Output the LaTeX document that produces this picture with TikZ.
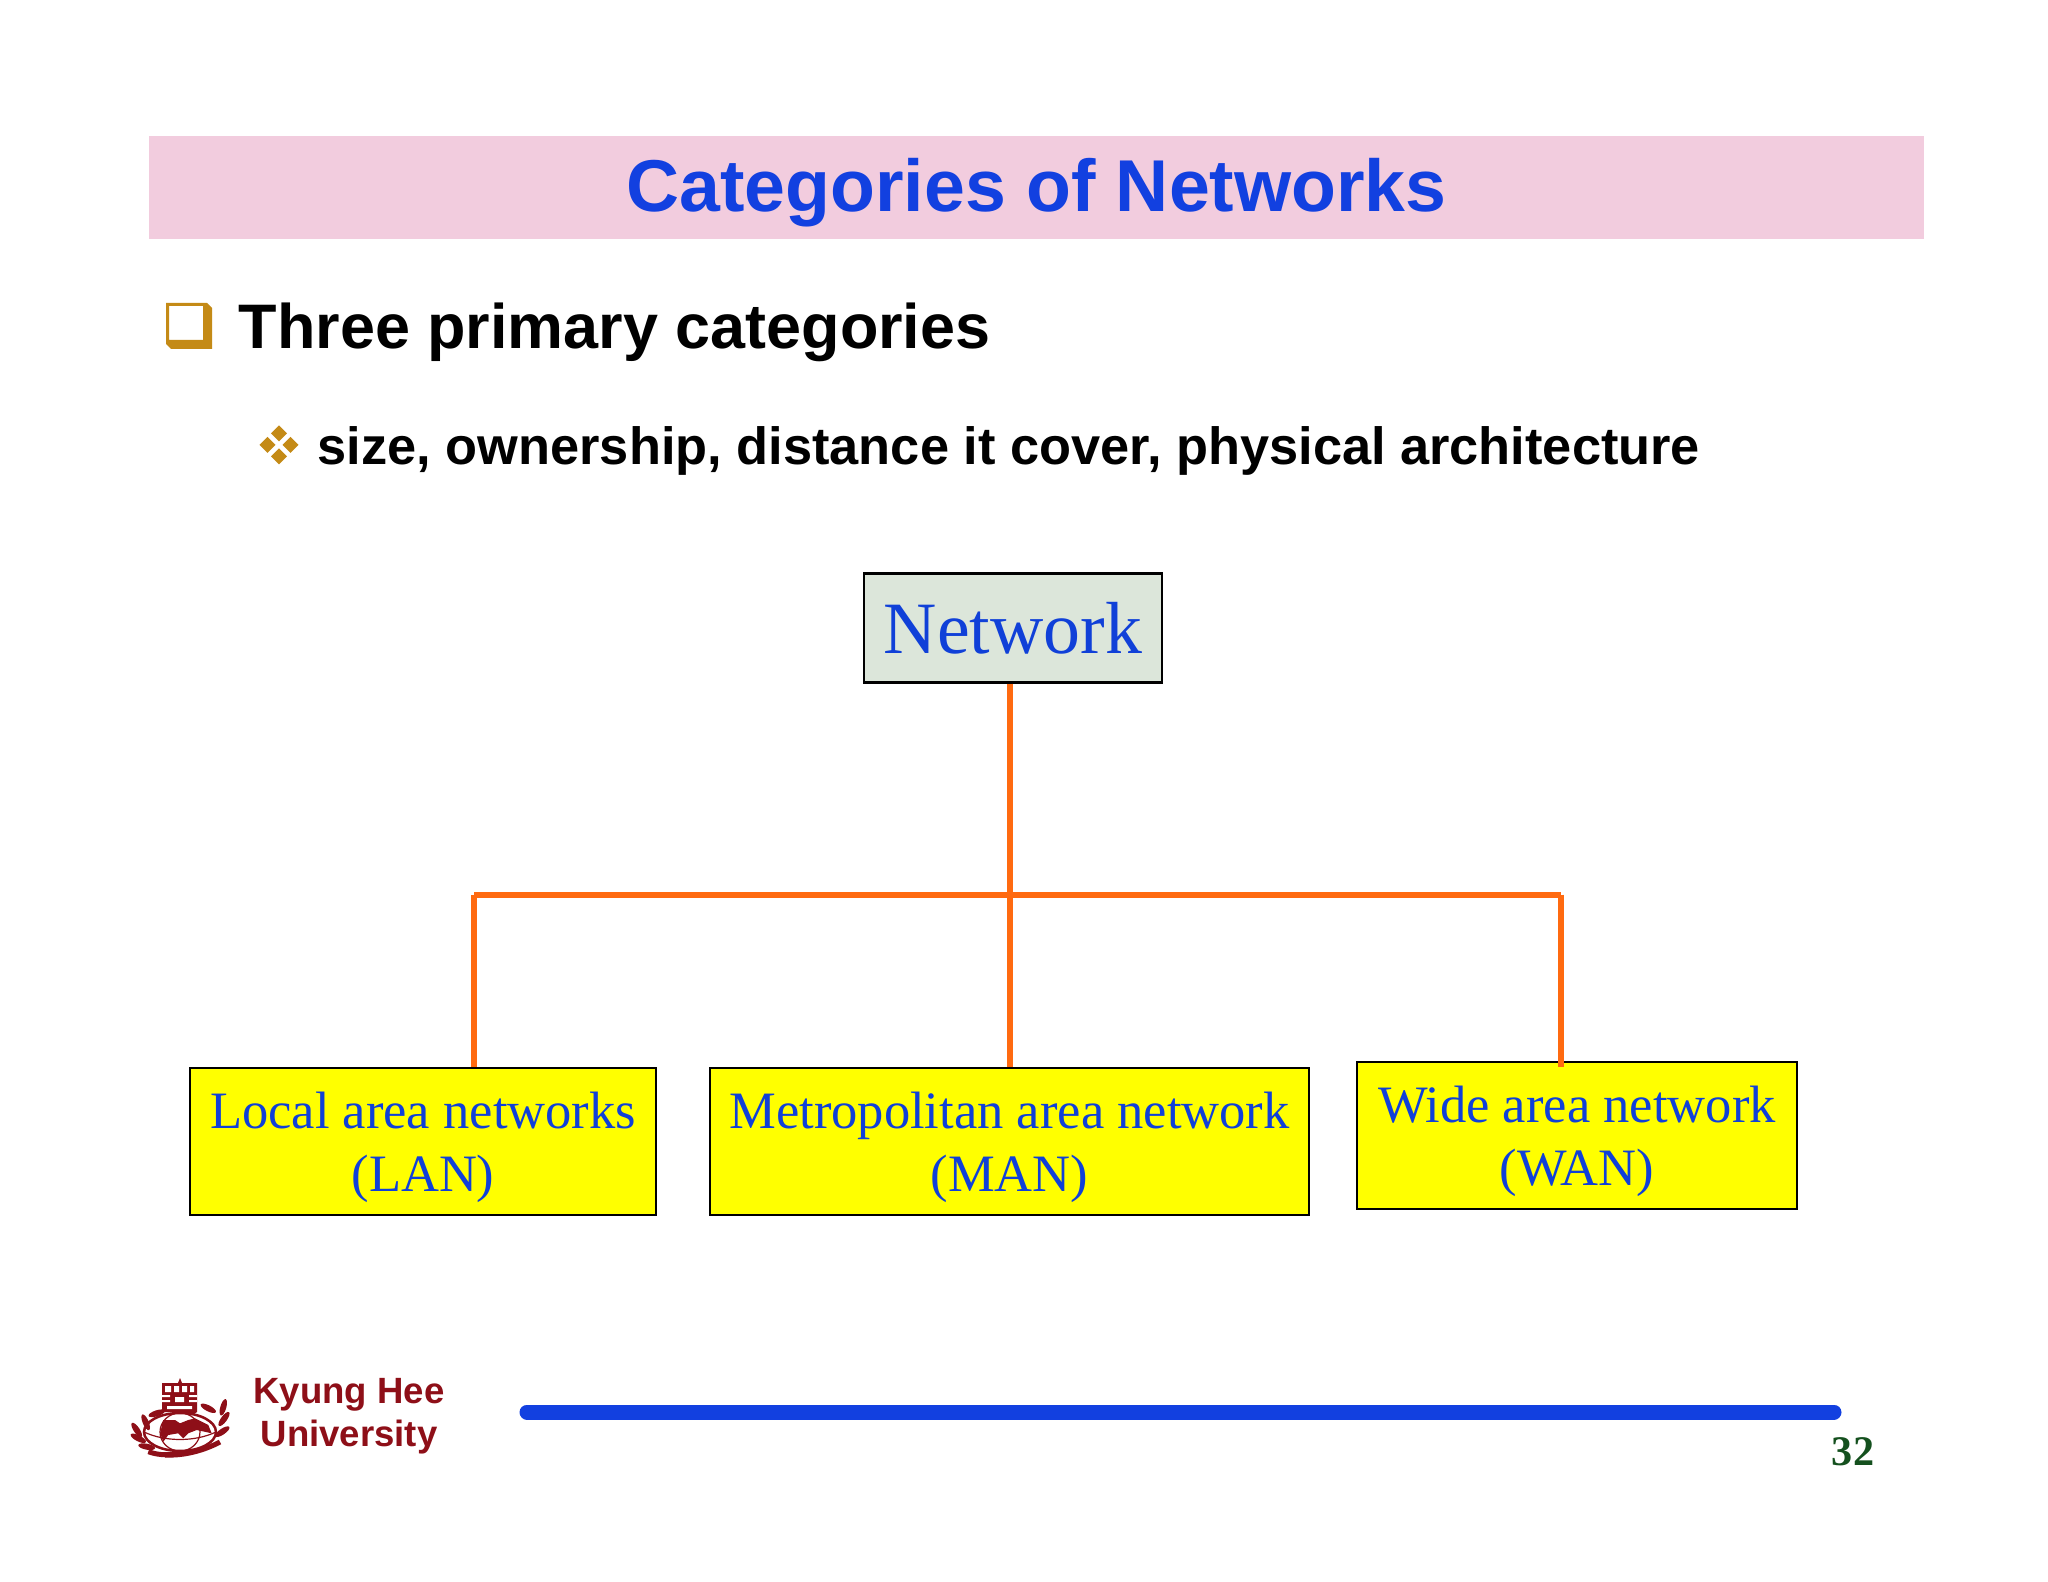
\documentclass[tikz,border=0pt]{standalone}
\usepackage{fontspec}
\setmainfont{Liberation Serif}
\newfontfamily\headfont{Liberation Sans}
\definecolor{bannerpink}{HTML}{F2CCDE}
\definecolor{titleblue}{HTML}{1240E0}
\definecolor{boxblue}{HTML}{1040D8}
\definecolor{boxgreen}{HTML}{DCE6DA}
\definecolor{boxyellow}{HTML}{FFFF00}
\definecolor{wireorange}{HTML}{FF6A10}
\definecolor{bulletgold}{HTML}{C48A16}
\definecolor{schoolred}{HTML}{8E0F18}
\definecolor{pagegreen}{HTML}{14501E}
\newcommand{\boxline}[1]{\raisebox{-1.6pt}[0.7em][0.2em]{#1}}
\tikzset{
  catbox/.style={draw=black,line width=0.25mm,fill=boxyellow,text=boxblue,align=center,inner sep=0pt,font=\fontsize{14.95}{17.8}\selectfont},
  wire/.style={draw=wireorange,line width=0.6mm},
}
\begin{document}
\begin{tikzpicture}
            \useasboundingbox[fill=white] (0,0) rectangle (20.48,-15.82);
            \fill[bannerpink] (1.49,-1.36) rectangle (19.24,-2.39);
            \node[text=titleblue,font=\headfont\bfseries\fontsize{20.9}{26}\selectfont] (title) at (10.365,-1.925) {Categories of Networks};
            % bullets
            \fill[bulletgold,even odd rule] (1.66,-3.03) -- (2.07,-3.03) -- (2.12,-3.08) -- (2.12,-3.49) -- (1.71,-3.49) -- (1.66,-3.44) -- cycle
                (1.69,-3.06) rectangle (2.03,-3.40);
            \node[anchor=base west,inner sep=0pt,font=\headfont\bfseries\fontsize{17.9}{20}\selectfont] (head) at (2.38,-3.49) {Three primary categories};
            \foreach \dx/\dy in {0/0.115,0/-0.115,0.115/0,-0.115/0}
                \fill[bulletgold] ({2.79+\dx},{-4.45+\dy}) ++(0.08,0) -- ++(-0.08,0.08) -- ++(-0.08,-0.08) -- ++(0.08,-0.08) -- cycle;
            \node[anchor=base west,inner sep=0pt,font=\headfont\bfseries\fontsize{14.9}{17}\selectfont] (sub) at (3.17,-4.65) {size, ownership, distance it cover, physical architecture};
            % tree
            \node[catbox,fill=boxgreen,minimum width=2.98cm,minimum height=1.09cm,font=\fontsize{21}{25}\selectfont,execute at begin node={\vspace*{2.5pt}}] (network) at (10.13,-6.28) {Network};
            \node[catbox,minimum width=4.66cm,minimum height=1.47cm] (lan) at (4.23,-11.415) {\boxline{Local area networks}\\\boxline{(LAN)}};
            \node[catbox,minimum width=5.99cm,minimum height=1.47cm] (man) at (10.095,-11.415) {\boxline{Metropolitan area network}\\\boxline{(MAN)}};
            \node[catbox,minimum width=4.40cm,minimum height=1.47cm] (wan) at (15.77,-11.355) {\boxline{Wide area network}\\\boxline{(WAN)}};
            \coordinate (busl) at (4.74,-8.945);
            \coordinate (busr) at (15.61,-8.945);
            \draw[wire] (network.south -| man.north) -- (man.north);
            \draw[wire] (busl) -- (busr);
            \draw[wire] (busl) -- (busl |- lan.north);
            \draw[wire] (busr) -- (busr |- man.north);
            % footer
            \coordinate (rulea) at (5.27,-14.12);
            \coordinate (ruleb) at (18.34,-14.12);
            \draw[titleblue,line width=1.5mm,line cap=round] (rulea) -- (ruleb);
            \node[text=pagegreen,font=\bfseries\fontsize{12}{14}\selectfont] (page) at (18.53,-14.52) {32};
            \node[text=schoolred,align=center,font=\headfont\bfseries\fontsize{10.4}{12.2}\selectfont] (school) at (3.49,-14.16) {Kyung Hee\\University};
            % crest
            \fill[schoolred] (1.62,-13.83) -- (1.78,-13.83) -- (1.80,-13.78) -- (1.82,-13.83) -- (1.97,-13.83) -- (1.97,-14.12) -- (1.85,-14.20) -- (1.75,-14.12) -- (1.62,-14.12) -- cycle;
            \fill[white] (1.65,-13.86) rectangle (1.71,-13.92) (1.74,-13.86) rectangle (1.79,-13.92)
                (1.82,-13.86) rectangle (1.87,-13.92) (1.90,-13.86) rectangle (1.94,-13.92)
                (1.62,-13.95) rectangle (1.70,-13.97) (1.89,-13.95) rectangle (1.97,-13.97)
                (1.62,-14.00) rectangle (1.70,-14.02) (1.89,-14.00) rectangle (1.97,-14.02)
                (1.75,-13.97) rectangle (1.84,-14.02)
                (1.67,-14.06) rectangle (1.92,-14.09);
            \draw[schoolred,line width=0.25mm,fill=white] (1.80,-14.32) ellipse (0.36 and 0.19);
            \draw[schoolred,line width=0.12mm] (1.80,-14.32) ellipse (0.20 and 0.19) (1.44,-14.32) .. controls (1.65,-14.42) and (1.95,-14.42) .. (2.16,-14.32);
            \fill[schoolred] (1.633,-14.2) -- (1.75,-14.2) -- (1.8,-14.233) -- (1.883,-14.2) -- (1.95,-14.183) -- (2.083,-14.25) -- (2.117,-14.333) -- (1.967,-14.3) -- (1.883,-14.333) -- (1.833,-14.383) -- (1.783,-14.333) -- (1.683,-14.35) -- (1.633,-14.417) -- (1.6,-14.333) -- cycle;
            \foreach \lx/\ly/\la in {1.383/-14.383/-27,1.367/-14.30/-56,1.457/-14.223/-67,1.567/-14.133/18,1.467/-14.467/-11,
                    2.233/-14.073/74,2.24/-14.19/54,2.223/-14.317/34,2.083/-14.083/-27}
                \fill[schoolred,rotate around={\la:(\lx,\ly)}] (\lx,\ly) ellipse (0.085 and 0.03);
            \draw[schoolred,line width=0.5mm] (1.483,-14.517) .. controls (1.60,-14.56) and (1.72,-14.55) .. (1.817,-14.533);
            \draw[schoolred,line width=0.5mm] (1.65,-14.55) .. controls (1.85,-14.56) and (2.05,-14.50) .. (2.20,-14.42);
\end{tikzpicture}
\end{document}
